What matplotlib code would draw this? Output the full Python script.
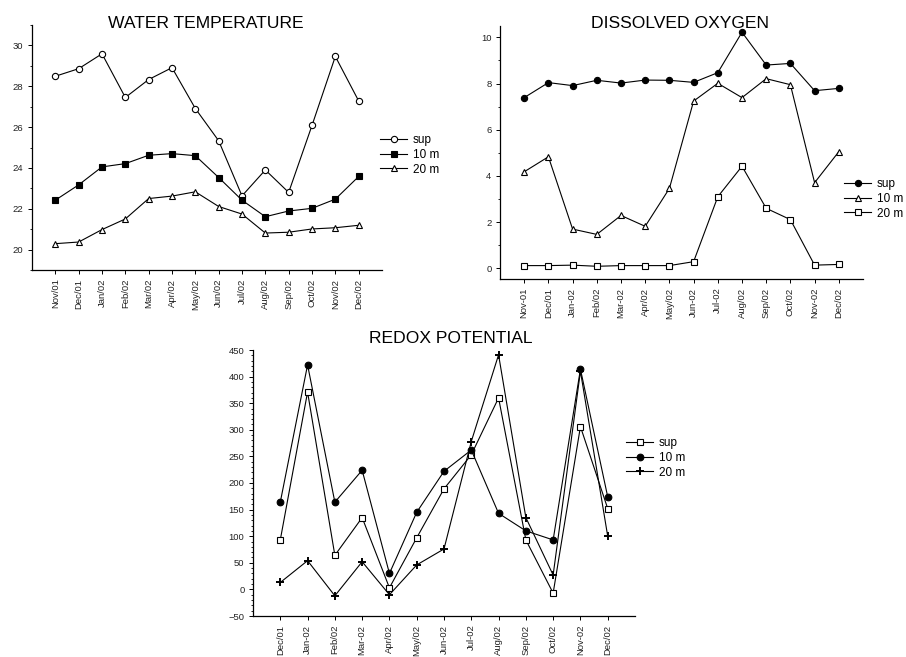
import matplotlib
matplotlib.use('Agg')
import matplotlib.pyplot as plt
from matplotlib.ticker import MultipleLocator

plt.rcParams['font.family'] = ['Liberation Sans', 'DejaVu Sans']

# Months along the x axis
wt_months = ['Nov/01', 'Dec/01', 'Jan/02', 'Feb/02', 'Mar/02', 'Apr/02', 'May/02',
             'Jun/02', 'Jul/02', 'Aug/02', 'Sep/02', 'Oct/02', 'Nov/02', 'Dec/02']
do_months = ['Nov-01', 'Dec/01', 'Jan-02', 'Feb/02', 'Mar-02', 'Apr/02', 'May/02',
             'Jun-02', 'Jul-02', 'Aug/02', 'Sep/02', 'Oct/02', 'Nov-02', 'Dec/02']
rx_months = ['Dec/01', 'Jan-02', 'Feb/02', 'Mar-02', 'Apr/02', 'May/02', 'Jun-02',
             'Jul-02', 'Aug/02', 'Sep/02', 'Oct/02', 'Nov-02', 'Dec/02']

# Water temperature (deg C)
wt_sup = [28.49, 28.86, 29.59, 27.45, 28.33, 28.91, 26.91,
          25.33, 22.63, 23.90, 22.80, 26.08, 29.46, 27.28]
wt_10m = [22.42, 23.17, 24.05, 24.21, 24.62, 24.70, 24.60,
          23.53, 22.42, 21.61, 21.89, 22.02, 22.47, 23.58]
wt_20m = [20.29, 20.37, 20.98, 21.50, 22.50, 22.62, 22.83,
          22.11, 21.74, 20.81, 20.85, 21.01, 21.07, 21.19]

# Dissolved oxygen (mg/L)
do_sup = [7.39, 8.04, 7.91, 8.14, 8.02, 8.15, 8.14,
          8.05, 8.47, 10.22, 8.80, 8.87, 7.69, 7.79]
do_10m = [4.18, 4.83, 1.70, 1.47, 2.29, 1.82, 3.46,
          7.24, 8.01, 7.39, 8.21, 7.95, 3.71, 5.05]
do_20m = [0.12, 0.12, 0.14, 0.09, 0.12, 0.12, 0.12,
          0.29, 3.10, 4.42, 2.60, 2.11, 0.14, 0.17]

# Redox potential (mV)
rx_sup = [93, 371, 64, 135, 3, 97, 189, 253, 360, 93, -7, 306, 152]
rx_10m = [164, 422, 164, 224, 30, 145, 222, 262, 143, 110, 93, 414, 174]
rx_20m = [13, 54, -12, 52, -10, 46, 76, 278, 441, 135, 27, 410, 100]

W, H = 906, 657
fig = plt.figure(figsize=(W / 100, H / 100), dpi=100)


def px_axes(left, top, right, bottom):
    return fig.add_axes([left / W, 1 - bottom / H, (right - left) / W, (bottom - top) / H])


def style(ax, labels, major, minor, ylim):
    n = len(labels)
    ax.set_xlim(-1, n)
    ax.set_ylim(*ylim)
    ax.set_xticks(range(n))
    ax.set_xticklabels(labels, rotation=90)
    ax.yaxis.set_major_locator(MultipleLocator(major))
    ax.yaxis.set_minor_locator(MultipleLocator(minor))
    for s in ('top', 'right'):
        ax.spines[s].set_visible(False)
    for s in ('left', 'bottom'):
        ax.spines[s].set_linewidth(0.9)
    ax.tick_params(axis='both', which='major', length=3, width=0.7,
                   labelsize=6.8, pad=3.2, direction='out', labelcolor='#222222')
    ax.tick_params(axis='y', which='minor', length=1.6, width=0.6)


line_kw = dict(color='black', linewidth=0.8, markeredgewidth=0.8)


def add_legend(ax, x, y):
    ax.legend(loc='center left', bbox_to_anchor=(x / W, 1 - y / H),
              bbox_transform=fig.transFigure, frameon=False, fontsize=8.5,
              handlelength=2.3, handletextpad=0.5, labelspacing=0.22,
              borderpad=0, borderaxespad=0)


# Water temperature
ax1 = px_axes(32, 25, 382, 270)
x = range(len(wt_months))
ax1.plot(x, wt_sup, marker='o', ms=4.5, mfc='white', mec='black', label='sup', **line_kw)
ax1.plot(x, wt_10m, marker='s', ms=4.2, mfc='black', mec='black', label='10 m', **line_kw)
ax1.plot(x, wt_20m, marker='^', ms=4.5, mfc='white', mec='black', label='20 m', **line_kw)
style(ax1, wt_months, 2, 1, (19, 31))
add_legend(ax1, 380, 155)
fig.text(206 / W, 1 - 28.5 / H, 'WATER TEMPERATURE', ha='center', va='baseline', fontsize=12.6)

# Dissolved oxygen
ax2 = px_axes(500, 26, 863, 279)
x = range(len(do_months))
ax2.plot(x, do_sup, marker='o', ms=4.5, mfc='black', mec='black', label='sup', **line_kw)
ax2.plot(x, do_10m, marker='^', ms=4.5, mfc='white', mec='black', label='10 m', **line_kw)
ax2.plot(x, do_20m, marker='s', ms=4.3, mfc='white', mec='black', label='20 m', **line_kw)
style(ax2, do_months, 2, 1, (-0.46, 10.49))
add_legend(ax2, 844, 199)
fig.text(680 / W, 1 - 28.5 / H, 'DISSOLVED OXYGEN', ha='center', va='baseline', fontsize=12.6)

# Redox potential
ax3 = px_axes(253, 350, 635, 616)
x = range(len(rx_months))
ax3.plot(x, rx_sup, marker='s', ms=4.5, mfc='white', mec='black', label='sup', **line_kw)
ax3.plot(x, rx_10m, marker='o', ms=4.8, mfc='black', mec='black', label='10 m', **line_kw)
ax3.plot(x, rx_20m, marker='+', ms=5.5, mec='black', label='20 m',
         color='black', linewidth=0.8, markeredgewidth=1.4)
style(ax3, rx_months, 50, 10, (-50, 450))
add_legend(ax3, 626, 458)
fig.text(451 / W, 1 - 342.7 / H, 'REDOX POTENTIAL', ha='center', va='baseline', fontsize=12.6)

fig.savefig('out.png', dpi=100)
